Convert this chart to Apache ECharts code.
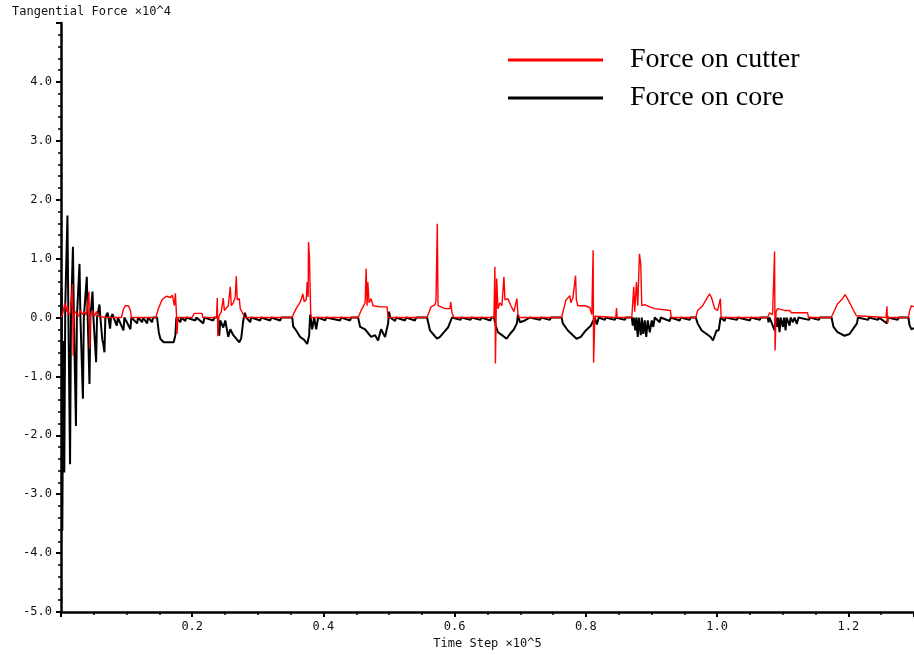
<!DOCTYPE html>
<html>
<head>
<meta charset="utf-8">
<script src="https://cdn.jsdelivr.net/npm/echarts/dist/echarts.min.js"></script>
<style>
  html, body { margin: 0; padding: 0; background: #fff; }
  #chart { width: 914px; height: 655px; }
</style>
</head>
<body>
<div id="chart"></div>
<script>
// time step (x10^5) and tangential force (x10^4)
const seriesNames = ['Force on cutter', 'Force on core']

const coreForce = [
    [0, 0], [0.0010, 0.5], [0.0020, -3.62], [0.0035, -0.4], [0.0050, -2.63], [0.0065, 0.2],
    [0.0098, 1.73], [0.0112, 0.1], [0.0138, -2.49], [0.0152, 0], [0.0182, 1.2], [0.0196, 0],
    [0.0228, -1.84], [0.0242, 0], [0.0282, 0.91], [0.0296, 0], [0.0334, -1.38], [0.0348, 0],
    [0.0393, 0.69], [0.0407, 0], [0.0434, -1.13], [0.0448, 0], [0.0480, 0.44], [0.0494, 0],
    [0.0535, -0.76], [0.0549, 0], [0.0586, 0.22], [0.0600, 0], [0.0630, -0.38], [0.0645, -0.45],
    [0.0662, -0.59], [0.0676, 0], [0.0710, 0.08], [0.0724, 0], [0.0748, -0.19], [0.0762, 0],
    [0.0787, 0.06], [0.0800, 0], [0.0852, -0.14], [0.0866, 0], [0.0952, -0.22], [0.0966, 0],
    [0.1058, -0.2], [0.1072, 0], [0.1160, -0.1], [0.1175, 0], [0.1236, -0.08], [0.1251, 0],
    [0.1312, -0.1], [0.1327, 0], [0.1388, -0.08], [0.1403, 0],
    [0.1464, 0], [0.1490, -0.25], [0.1514, -0.36], [0.1565, -0.42], [0.1717, -0.42], [0.1743, -0.3], [0.1758, 0],
    [0.1819, -0.08], [0.1834, 0], [0.1895, -0.06], [0.1910, 0], [0.2047, -0.05], [0.2062, 0],
    [0.2169, -0.1], [0.2184, 0], [0.2321, -0.05], [0.2336, 0],
    [0.2397, 0], [0.2412, -0.31], [0.2427, -0.05], [0.2473, -0.17], [0.2504, -0.05], [0.2549, -0.33],
    [0.2580, -0.2], [0.2626, -0.3], [0.2686, -0.38], [0.2717, -0.42], [0.2747, -0.35], [0.2778, -0.05],
    [0.2801, 0.08], [0.2824, 0],
    [0.2884, -0.08], [0.2899, 0], [0.3037, -0.05], [0.3052, 0], [0.3189, -0.05], [0.3204, 0],
    [0.3341, -0.05], [0.3356, 0],
    [0.3524, 0], [0.3539, -0.15], [0.3584, -0.22], [0.3645, -0.33], [0.3706, -0.38], [0.3752, -0.45],
    [0.3782, -0.3], [0.3798, 0.05], [0.3828, -0.2], [0.3858, 0], [0.3889, -0.2], [0.3919, 0],
    [0.4026, -0.05], [0.4041, 0], [0.4254, -0.05], [0.4269, 0], [0.4406, -0.05], [0.4421, 0],
    [0.4528, 0], [0.4559, -0.16], [0.4635, -0.2], [0.4726, -0.33], [0.4787, -0.3], [0.4833, -0.39],
    [0.4878, -0.2], [0.4939, -0.33], [0.4985, -0.1], [0.5000, 0.1], [0.5015, 0],
    [0.5091, -0.06], [0.5106, 0], [0.5244, -0.05], [0.5259, 0], [0.5396, -0.05], [0.5411, 0],
    [0.5578, 0], [0.5624, -0.22], [0.5670, -0.28], [0.5731, -0.36], [0.5776, -0.33], [0.5837, -0.25],
    [0.5898, -0.17], [0.5959, 0],
    [0.6088, -0.04], [0.6103, 0], [0.6240, -0.04], [0.6255, 0], [0.6393, -0.04], [0.6408, 0],
    [0.6545, -0.05], [0.6560, 0],
    [0.6598, 0], [0.6629, -0.15], [0.6659, -0.25], [0.6720, -0.3], [0.6791, -0.36], [0.6842, -0.28],
    [0.6903, -0.2], [0.6948, -0.1], [0.6964, 0.05], [0.6994, -0.08], [0.7070, -0.05], [0.7146, 0],
    [0.7300, -0.04], [0.7315, 0], [0.7450, -0.04], [0.7465, 0],
    [0.7629, 0], [0.7648, -0.1], [0.7725, -0.22], [0.7801, -0.3], [0.7857, -0.36], [0.7922, -0.33],
    [0.7998, -0.22], [0.8074, -0.14], [0.8136, 0], [0.8166, -0.12], [0.8196, 0],
    [0.8288, -0.04], [0.8303, 0], [0.8440, -0.04], [0.8455, 0], [0.8592, -0.04], [0.8607, 0],
    [0.8699, 0], [0.8714, -0.14], [0.8729, 0], [0.8752, -0.22], [0.8767, 0], [0.8790, -0.33],
    [0.8805, 0], [0.8836, -0.3], [0.8851, 0], [0.8874, -0.28], [0.8896, -0.05], [0.8919, -0.33],
    [0.8942, -0.05], [0.8973, -0.25], [0.9003, -0.05], [0.9026, -0.16], [0.9049, 0], [0.9125, -0.08],
    [0.9140, 0], [0.9277, -0.06], [0.9292, 0],
    [0.9430, -0.05], [0.9445, 0], [0.9580, -0.04], [0.9595, 0],
    [0.9673, 0], [0.9703, -0.1], [0.9764, -0.22], [0.9840, -0.28], [0.9901, -0.33], [0.9936, -0.39],
    [0.9992, -0.22], [1.0023, -0.22], [1.0053, 0], [1.0114, -0.06], [1.0129, 0],
    [1.0300, -0.04], [1.0315, 0], [1.0500, -0.05], [1.0515, 0], [1.0650, -0.04], [1.0665, 0],
    [1.0769, 0], [1.0784, -0.08], [1.0799, 0], [1.0875, -0.22], [1.0891, 0], [1.0910, -0.16],
    [1.0928, 0], [1.0951, -0.25], [1.0967, 0], [1.1002, -0.16], [1.1020, 0], [1.1043, -0.22],
    [1.1058, 0], [1.1104, -0.14], [1.1119, 0], [1.1154, -0.08], [1.1180, 0], [1.1214, -0.11], [1.1240, 0],
    [1.1400, -0.04], [1.1415, 0], [1.1550, -0.04], [1.1565, 0],
    [1.1743, 0], [1.1773, -0.16], [1.1834, -0.25], [1.1941, -0.31], [1.2017, -0.28], [1.2093, -0.16],
    [1.2131, -0.1], [1.2146, 0],
    [1.2300, -0.04], [1.2315, 0], [1.2450, -0.04], [1.2465, 0], [1.2588, -0.1], [1.2603, 0],
    [1.2750, -0.04], [1.2765, 0],
    [1.2915, 0], [1.2930, -0.12], [1.2960, -0.2], [1.3, -0.18]
]

const cutterForce = [
    [0, 0], [0.0023, 0.05], [0.0058, 0.25], [0.0084, 0.1], [0.0099, 0.2], [0.0114, 0.05],
    [0.0145, 0.08], [0.0175, 0.57], [0.0186, -0.65], [0.0198, 0.05], [0.0221, 0.1], [0.0266, 0.02],
    [0.0297, 0.12], [0.0327, 0.05], [0.0358, 0.1], [0.0388, 0.04], [0.0426, 0.44], [0.0438, -0.53],
    [0.0449, 0.05], [0.0479, 0.12], [0.0510, 0.02], [0.0540, 0.1], [0.0571, 0.02], [0.0601, 0.05],
    [0.0677, 0], [0.0921, 0], [0.0951, 0.14], [0.0982, 0.2], [0.1027, 0.2], [0.1058, 0.12], [0.1073, 0],
    [0.1446, 0], [0.1484, 0.15], [0.1540, 0.3], [0.1606, 0.36], [0.1667, 0.34], [0.1697, 0.38],
    [0.1728, 0.2], [0.1743, 0.41], [0.1758, 0.1], [0.1769, -0.28], [0.1781, 0],
    [0.1997, 0], [0.2032, 0.07], [0.2149, 0.07], [0.2161, 0],
    [0.2370, 0], [0.2382, 0.33], [0.2390, -0.32], [0.2400, 0],
    [0.2443, 0.1], [0.2473, 0.33], [0.2489, 0.12], [0.2519, 0.15], [0.2549, 0.2], [0.2580, 0.52],
    [0.2595, 0.2], [0.2626, 0.25], [0.2656, 0.35], [0.2671, 0.70], [0.2686, 0.3], [0.2717, 0.32],
    [0.2732, 0.15], [0.2778, 0.05], [0.2793, 0],
    [0.3519, 0], [0.3584, 0.15], [0.3645, 0.26], [0.3686, 0.4], [0.3706, 0.27], [0.3737, 0.3],
    [0.3752, 0.6], [0.3767, 0.35], [0.3772, 1.28], [0.3787, 1.0], [0.3805, 0.1], [0.3813, 0],
    [0.4528, 0], [0.4574, 0.12], [0.4604, 0.18], [0.4635, 0.25], [0.4650, 0.83], [0.4665, 0.2],
    [0.4676, 0.6], [0.4696, 0.25], [0.4726, 0.32], [0.4756, 0.2], [0.4863, 0.18], [0.4970, 0.18], [0.4985, 0],
    [0.5578, 0], [0.5639, 0.18], [0.5700, 0.22], [0.5715, 0.29], [0.5735, 1.59], [0.5746, 0.2],
    [0.5776, 0.18], [0.5852, 0.15], [0.5928, 0.15], [0.5939, 0.26], [0.5959, 0.08], [0.5989, 0],
    [0.6598, 0], [0.6613, 0.86], [0.6621, -0.78], [0.6640, 0.66], [0.6659, 0.15], [0.6689, 0.25],
    [0.6720, 0.2], [0.6750, 0.69], [0.6766, 0.3], [0.6811, 0.32], [0.6857, 0.2], [0.6903, 0.1],
    [0.6948, 0.32], [0.6964, 0.05], [0.6979, 0],
    [0.7629, 0], [0.7694, 0.29], [0.7755, 0.37], [0.7770, 0.25], [0.7801, 0.33], [0.7842, 0.71],
    [0.7854, 0.3], [0.7877, 0.2], [0.7984, 0.2], [0.8059, 0.17], [0.8090, 0.05], [0.8110, 1.14],
    [0.8117, -0.77], [0.8136, 0.02], [0.8166, 0],
    [0.8455, 0], [0.8466, 0.16], [0.8477, 0],
    [0.8699, 0], [0.8729, 0.52], [0.8744, 0.1], [0.8770, 0.6], [0.8790, 0.2], [0.8816, 1.08],
    [0.8836, 0.9], [0.8851, 0.2], [0.8896, 0.22], [0.8973, 0.18], [0.9049, 0.15], [0.9064, 0.12],
    [0.9288, 0.12], [0.9300, 0],
    [0.9673, 0], [0.9703, 0.12], [0.9779, 0.2], [0.9840, 0.32], [0.9886, 0.4], [0.9916, 0.33],
    [0.9962, 0.15], [1.0008, 0.12], [1.0049, 0.32], [1.0061, 0],
    [1.0769, 0], [1.0799, 0.08], [1.0845, 0.05], [1.0875, 1.12], [1.0883, -0.56], [1.0898, 0.1],
    [1.0921, 0.15], [1.1027, 0.12], [1.1104, 0.12], [1.1134, 0.08], [1.1377, 0.08], [1.1393, 0],
    [1.1738, 0], [1.1788, 0.12], [1.1834, 0.23], [1.1910, 0.32], [1.1951, 0.39], [1.1986, 0.32],
    [1.2043, 0.2], [1.2093, 0.09], [1.2123, 0.03], [1.2131, 0],
    [1.2575, 0], [1.2588, 0.19], [1.2596, -0.1], [1.2610, 0],
    [1.2915, 0], [1.2930, 0.1], [1.2960, 0.2], [1.3, 0.18]
]

const axisFont = 'DejaVu Sans Mono'
const inkColor = '#111'

const chart = echarts.init(document.getElementById('chart'))

const option = {
    animation: false,
    grid: {
        left: 61,
        right: 0,
        top: 23,
        bottom: 43
    },
    legend: {
        orient: 'vertical',
        left: 503,
        top: 41,
        icon: 'rect',
        itemWidth: 95,
        itemHeight: 3,
        itemGap: 10,
        data: seriesNames,
        textStyle: {
            fontFamily: 'Liberation Serif',
            fontSize: 28,
            lineHeight: 28,
            color: '#000',
            padding: [0, 0, 0, 22]
        }
    },
    xAxis: {
        type: 'value',
        min: 0,
        max: 1.3,
        interval: 0.2,
        name: 'Time Step ×10^5',
        nameLocation: 'middle',
        nameGap: 26,
        nameTextStyle: { fontFamily: axisFont, fontSize: 12, color: inkColor },
        axisLine: { onZero: false, lineStyle: { color: '#000', width: 2.5 } },
        axisTick: { length: 5, lineStyle: { color: '#000', width: 2 } },
        minorTick: { show: true, splitNumber: 4, length: 3, lineStyle: { color: '#000', width: 1.5 } },
        axisLabel: {
            showMinLabel: false,
            showMaxLabel: false,
            margin: 9,
            fontFamily: axisFont,
            fontSize: 12,
            color: inkColor,
            formatter: v => v.toFixed(1)
        },
        splitLine: { show: false }
    },
    yAxis: {
        type: 'value',
        min: -5,
        max: 5,
        interval: 1,
        name: 'Tangential Force ×10^4',
        nameLocation: 'end',
        nameGap: 5,
        nameTextStyle: {
            fontFamily: axisFont,
            fontSize: 12,
            color: inkColor,
            align: 'left',
            padding: [0, 0, 0, -49]
        },
        axisLine: { lineStyle: { color: '#000', width: 2.5 } },
        axisTick: { length: 5, lineStyle: { color: '#000', width: 2 } },
        minorTick: { show: true, splitNumber: 5, length: 3, lineStyle: { color: '#000', width: 1.5 } },
        axisLabel: {
            showMaxLabel: false,
            margin: 9,
            fontFamily: axisFont,
            fontSize: 12,
            color: inkColor,
            formatter: v => v.toFixed(1)
        },
        splitLine: { show: false }
    },
    series: [
        {
            name: 'Force on core',
            type: 'line',
            data: coreForce,
            showSymbol: false,
            symbol: 'none',
            color: '#000',
            lineStyle: { color: '#000', width: 2 },
            z: 2
        },
        {
            name: 'Force on cutter',
            type: 'line',
            data: cutterForce,
            showSymbol: false,
            symbol: 'none',
            color: '#ff0000',
            lineStyle: { color: '#ff0000', width: 1.4 },
            z: 3
        }
    ]
}

chart.setOption(option)
</script>
</body>
</html>
